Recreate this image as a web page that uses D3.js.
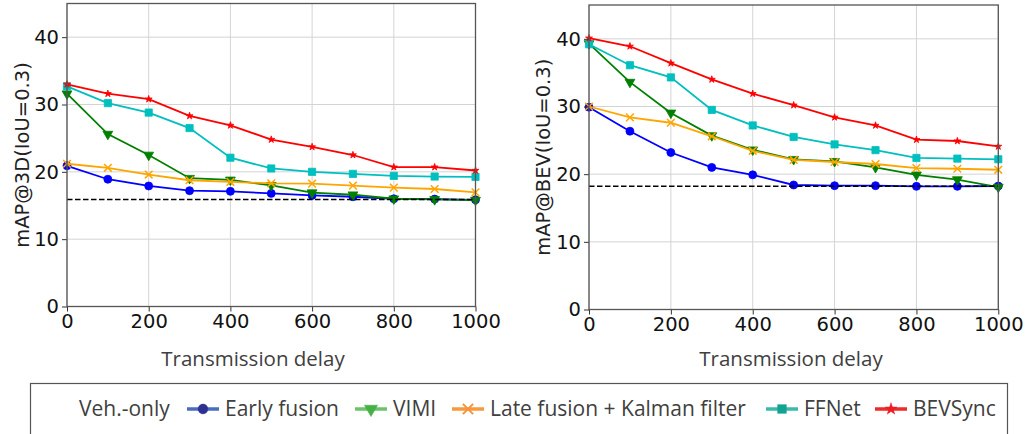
<!DOCTYPE html>
<html>
<head>
<meta charset="utf-8">
<script src="https://cdn.jsdelivr.net/npm/d3@7"></script>
<style>
  body { margin: 0; background: #fff; }
  svg { display: block; }
</style>
</head>
<body>
<svg id="chart"></svg>
<script>
// transmission delay (ms)
const delays = [0, 100, 200, 300, 400, 500, 600, 700, 800, 900, 1000];
const xTicks = [0, 200, 400, 600, 800, 1000];
const yTicks = [0, 10, 20, 30, 40];

// mAP@3D values
const early3d  = [20.9, 18.9, 17.9, 17.2, 17.1, 16.8, 16.5, 16.3, 16.0, 15.95, 15.85];
const vimi3d   = [31.6, 25.6, 22.5, 19.05, 18.8, 18.0, 16.9, 16.6, 16.0, 15.9, 15.8];
const late3d   = [21.2, 20.6, 19.6, 18.75, 18.5, 18.3, 18.25, 17.95, 17.65, 17.45, 16.95];
const ffnet3d  = [32.7, 30.2, 28.8, 26.5, 22.1, 20.5, 20.0, 19.7, 19.4, 19.3, 19.25];
const bevsync3d = [33.0, 31.6, 30.8, 28.3, 26.9, 24.8, 23.7, 22.5, 20.7, 20.7, 20.2];
const vehOnly3d = 15.9;

// mAP@BEV values
const earlyBev  = [29.9, 26.35, 23.2, 21.0, 19.9, 18.4, 18.3, 18.3, 18.2, 18.2, 18.25];
const vimiBev   = [39.3, 33.6, 29.05, 25.7, 23.6, 22.2, 21.9, 21.0, 19.9, 19.2, 18.1];
const lateBev   = [30.0, 28.4, 27.6, 25.6, 23.45, 22.1, 21.8, 21.5, 20.9, 20.8, 20.65];
const ffnetBev  = [39.2, 36.1, 34.3, 29.5, 27.2, 25.5, 24.4, 23.55, 22.4, 22.3, 22.2];
const bevsyncBev = [40.1, 38.9, 36.4, 34.0, 31.9, 30.2, 28.4, 27.2, 25.1, 24.9, 24.1];
const vehOnlyBev = 18.2;

const seriesNames = ['Early fusion', 'VIMI', 'Late fusion + Kalman filter', 'FFNet', 'BEVSync'];

const styles = {
  'Early fusion': {color: '#0000ff', symbol: d3.symbolCircle, size: 50, rot: 0},
  'VIMI': {color: '#008000', symbol: d3.symbolTriangle, size: 42, rot: 180},
  'Late fusion + Kalman filter': {color: '#ffa500', symbol: d3.symbolX, size: 40, rot: 0, stroke: true},
  'FFNet': {color: '#00bfbf', symbol: d3.symbolSquare, size: 52, rot: 0},
  'BEVSync': {color: '#ff0000', symbol: d3.symbolStar, size: 15, rot: 0}
};

const legendStyles = {
  'Early fusion': {line: '#4a6cc0', mark: '#2e3192'},
  'VIMI': {line: '#6cc36a', mark: '#45b045'},
  'Late fusion + Kalman filter': {line: '#f79a3e', mark: '#f7923a'},
  'FFNet': {line: '#3cb8ac', mark: '#12a391'},
  'BEVSync': {line: '#ee2a2a', mark: '#ee1c25'}
};

const svg = d3.select('#chart').attr('width', 1025).attr('height', 434);

function drawPanel(cfg){
  const g = svg.append('g');
  const xscale = d3.scaleLinear().domain([0, 1000]).range([cfg.left, cfg.right]);
  const yscale = d3.scaleLinear().domain([0, 45]).range([cfg.bottom, cfg.top]);

  // grid
  g.append('g').selectAll('line').data(xTicks).enter().append('line')
    .attr('x1', d => xscale(d)).attr('x2', d => xscale(d))
    .attr('y1', cfg.top).attr('y2', cfg.bottom)
    .attr('stroke', '#d4d4d4').attr('stroke-width', 1);
  g.append('g').selectAll('line').data(yTicks).enter().append('line')
    .attr('x1', cfg.left).attr('x2', cfg.right)
    .attr('y1', d => yscale(d)).attr('y2', d => yscale(d))
    .attr('stroke', '#d4d4d4').attr('stroke-width', 1);

  // lines + markers
  const line = d3.line().x((d, i) => xscale(delays[i])).y(d => yscale(d));
  seriesNames.forEach((name, k) => {
    const vals = cfg.series[k];
    const st = styles[name];
    g.append('path').datum(vals)
      .attr('fill', 'none').attr('stroke', st.color).attr('stroke-width', 1.8)
      .attr('d', line);
    const sym = d3.symbol().type(st.symbol).size(st.size);
    g.append('g').selectAll('path').data(vals).enter().append('path')
      .attr('d', sym)
      .attr('transform', (d, i) => `translate(${xscale(delays[i])},${yscale(d)}) rotate(${st.rot})`)
      .attr('fill', st.stroke ? 'none' : st.color)
      .attr('stroke', st.color)
      .attr('stroke-width', st.stroke ? 1.5 : 0.8);
  });

  // veh-only baseline
  g.append('line')
    .attr('x1', cfg.left).attr('x2', cfg.right)
    .attr('y1', yscale(cfg.baseline)).attr('y2', yscale(cfg.baseline))
    .attr('stroke', '#000').attr('stroke-width', 1.5)
    .attr('stroke-dasharray', '5.5,2.5');

  // axes
  const xaxis = d3.axisBottom(xscale).tickValues(xTicks).tickFormat(d3.format('d'))
    .tickSize(5).tickPadding(3).tickSizeOuter(0);
  const yaxis = d3.axisLeft(yscale).tickValues(yTicks).tickFormat(d3.format('d'))
    .tickSize(5).tickPadding(3).tickSizeOuter(0);
  const xg = g.append('g').attr('transform', `translate(0,${cfg.bottom})`).call(xaxis);
  const yg = g.append('g').attr('transform', `translate(${cfg.left},0)`).call(yaxis);
  [xg, yg].forEach(a => {
    a.select('.domain').remove();
    a.selectAll('line').attr('stroke', '#333');
    a.selectAll('text').style('font-family', 'DejaVu Sans').style('font-size', '19.5px').attr('fill', '#111');
  });

  // frame
  g.append('rect')
    .attr('x', cfg.left).attr('y', cfg.top)
    .attr('width', cfg.right - cfg.left).attr('height', cfg.bottom - cfg.top)
    .attr('fill', 'none').attr('stroke', '#555').attr('stroke-width', 1.3);

  // labels
  g.append('text')
    .attr('transform', `translate(${cfg.ylabelX},${(cfg.top + cfg.bottom) / 2}) rotate(-90)`)
    .attr('text-anchor', 'middle')
    .attr('dy', '0.35em')
    .style('font-family', 'DejaVu Sans').style('font-size', '19.5px').attr('fill', '#222')
    .text(cfg.ylabel);

  g.append('text')
    .attr('x', cfg.xlabelX).attr('y', 366)
    .attr('text-anchor', 'middle')
    .style('font-family', 'Open Sans').style('font-size', '20.5px').attr('fill', '#404040')
    .text('Transmission delay');
}

drawPanel({
  left: 67, right: 475.5, top: 3.5, bottom: 306.5,
  series: [early3d, vimi3d, late3d, ffnet3d, bevsync3d],
  baseline: vehOnly3d,
  ylabel: 'mAP@3D(IoU=0.3)', ylabelX: 22, xlabelX: 253
});

drawPanel({
  left: 589, right: 998.3, top: 5, bottom: 309.5,
  series: [earlyBev, vimiBev, lateBev, ffnetBev, bevsyncBev],
  baseline: vehOnlyBev,
  ylabel: 'mAP@BEV(IoU=0.3)', ylabelX: 543, xlabelX: 791
});

// legend
const legend = svg.append('g');
legend.append('rect')
  .attr('x', 30.5).attr('y', 383.5).attr('width', 977).attr('height', 60)
  .attr('fill', '#fff').attr('stroke', '#555').attr('stroke-width', 1.2);

const legendFont = t => t.style('font-family', 'Open Sans').style('font-size', '21px').attr('fill', '#404040');

legend.append('text').attr('x', 79).attr('y', 416).text('Veh.-only').call(legendFont);

const legendX = {'Early fusion': 187, 'VIMI': 355, 'Late fusion + Kalman filter': 452, 'FFNet': 766, 'BEVSync': 875};
seriesNames.forEach(name => {
  const x0 = legendX[name];
  const ls = legendStyles[name];
  const st = styles[name];
  legend.append('line')
    .attr('x1', x0).attr('x2', x0 + 32).attr('y1', 409).attr('y2', 409)
    .attr('stroke', ls.line).attr('stroke-width', 3.5);
  const msize = st.symbol === d3.symbolStar ? 45 : (st.stroke ? 70 : 75);
  legend.append('path')
    .attr('d', d3.symbol().type(st.symbol).size(msize)())
    .attr('transform', `translate(${x0 + 16},409) rotate(${st.rot})`)
    .attr('fill', st.stroke ? 'none' : ls.mark)
    .attr('stroke', ls.mark)
    .attr('stroke-width', st.stroke ? 2 : 0.5);
  legend.append('text').attr('x', x0 + 38).attr('y', 416).text(name).call(legendFont);
});
</script>
</body>
</html>
